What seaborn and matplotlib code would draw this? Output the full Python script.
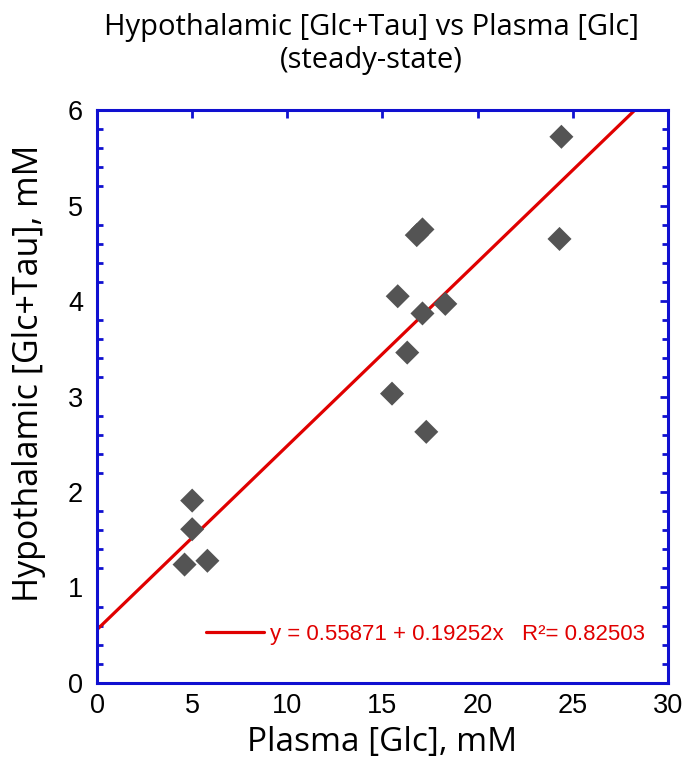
import numpy as np
import pandas as pd
import seaborn as sns
import matplotlib.pyplot as plt
from matplotlib.ticker import MultipleLocator

# plasma glucose (mM) vs hypothalamic Glc+Tau (mM)
plasma = [4.6, 5.0, 5.0, 5.8, 15.5, 15.8, 16.3, 16.8, 17.1, 17.1, 17.3, 18.3, 24.3, 24.4]
hypo = [1.24, 1.91, 1.61, 1.28, 3.03, 4.05, 3.46, 4.69, 4.75, 3.87, 2.63, 3.97, 4.65, 5.72]

# linear fit shown in the legend
intercept = 0.55871
slope = 0.19252
r2 = 0.82503

df = pd.DataFrame({"plasma": plasma, "hypo": hypo})
fit_x = np.array([0, 30])
fit_df = pd.DataFrame({"x": fit_x, "y": intercept + slope * fit_x})

sns.set_style("white")
plt.rcParams['font.family'] = ['Liberation Sans', 'DejaVu Sans']
plt.rcParams['text.color'] = 'black'
plt.rcParams['axes.labelcolor'] = 'black'
plt.rcParams['xtick.color'] = 'black'
plt.rcParams['ytick.color'] = 'black'

frame_col = "#1010d0"
fig = plt.figure(figsize=(6.89, 7.62), dpi=100)
ax = fig.add_axes([0.1408, 0.1037, 0.8287, 0.7519])

sns.scatterplot(data=df, x="plasma", y="hypo", ax=ax, marker="D", s=150,
                color="#545454", edgecolor="none", zorder=3)
sns.lineplot(data=fit_df, x="x", y="y", ax=ax, color="#e00000", linewidth=2.3,
             label=f"y = {intercept} + {slope}x   R\u00b2= {r2}", zorder=2)

ax.set_xlim(0, 30)
ax.set_ylim(0, 6)
ax.xaxis.set_major_locator(MultipleLocator(5))
ax.yaxis.set_major_locator(MultipleLocator(1))
ax.yaxis.set_minor_locator(MultipleLocator(0.2))

for s in ax.spines.values():
    s.set_color(frame_col)
    s.set_linewidth(2.2)
ax.tick_params(which="both", direction="in", color=frame_col, top=True, right=True,
               labelsize=19.5, width=2, labelcolor="black")
ax.tick_params(which="major", length=6)
ax.tick_params(which="minor", length=4, left=True, right=True)
ax.tick_params(axis="x", pad=7)
ax.tick_params(axis="y", pad=10)

ax.set_xlabel("Plasma [Glc], mM", fontsize=24, family="Open Sans", labelpad=5)
ax.set_ylabel("Hypothalamic [Glc+Tau], mM", fontsize=24.5, family="Open Sans")
ax.yaxis.set_label_coords(-0.09, 0.54)
ax.set_title("Hypothalamic [Glc+Tau] vs Plasma [Glc]\n(steady-state)", fontsize=21,
             family="Open Sans", pad=30, linespacing=1.2, color="black", x=0.48)

leg = ax.legend(loc="lower right", frameon=False, fontsize=16, labelcolor="#e00000",
                handlelength=2.6, handletextpad=0.27, bbox_to_anchor=(0.995, 0.031))

fig.savefig("out.png", dpi=100)
